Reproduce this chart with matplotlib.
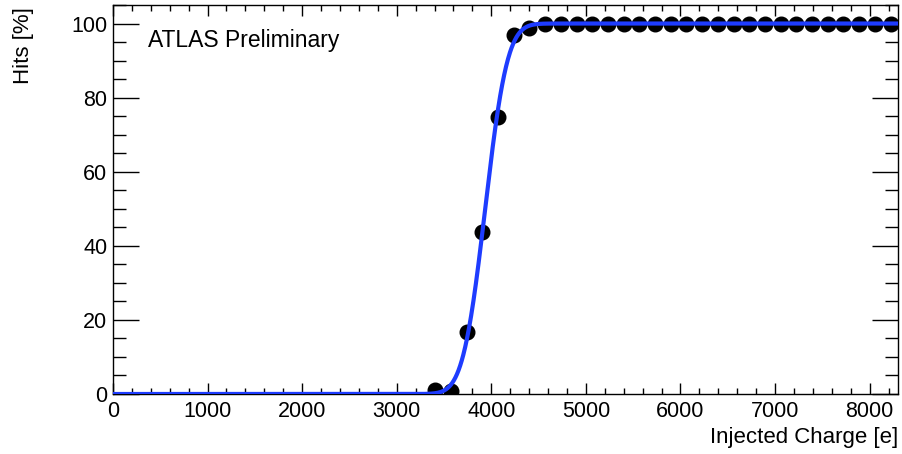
import math
import numpy as np
import matplotlib
matplotlib.use("Agg")
import matplotlib.pyplot as plt
from matplotlib.ticker import MultipleLocator

# Data
charge = [3407, 3573, 3739, 3905, 4071, 4237, 4403, 4569, 4735, 4901,
          5067, 5233, 5399, 5565, 5731, 5897, 6063, 6229, 6395, 6561,
          6727, 6893, 7059, 7225, 7391, 7557, 7723, 7889, 8055, 8221]
hits = [1.2, 0.7, 16.7, 43.8, 74.8, 97.0, 98.8, 99.9, 99.9, 99.9,
        99.9, 99.9, 99.9, 99.9, 99.9, 99.9, 99.9, 99.9, 99.9, 99.9,
        99.9, 99.9, 99.9, 99.9, 99.9, 99.9, 99.9, 99.9, 99.9, 99.9]

# S-curve fit parameters (error function)
fit_mean = 3935.0
fit_sigma = 185.0
fit_plateau = 100.0
fit_range = (0, 8300)

plt.rcParams['font.family'] = ['Liberation Sans', 'DejaVu Sans']

W, H = 903, 454
fig = plt.figure(figsize=(W / 100, H / 100), dpi=100)
ax = fig.add_axes([113 / W, 1 - 394 / H, (898 - 113) / W, (394 - 5) / H])

xf = np.linspace(fit_range[0], fit_range[1], 2000)
yf = np.array([0.5 * fit_plateau * (1 + math.erf((v - fit_mean) / (math.sqrt(2) * fit_sigma))) for v in xf])

ax.plot(charge, hits, 'o', color='black', markersize=10.5, zorder=3)
ax.plot(xf, yf, '-', color='#1e3cff', linewidth=3.0, zorder=4)

ax.set_xlim(0, 8300)
ax.set_ylim(0, 105)

ax.xaxis.set_major_locator(MultipleLocator(1000))
ax.xaxis.set_minor_locator(MultipleLocator(200))
ax.yaxis.set_major_locator(MultipleLocator(20))
ax.yaxis.set_minor_locator(MultipleLocator(5))

ax.tick_params(axis='both', which='both', direction='in', top=True, right=True,
               width=1.0, color='black')
ax.tick_params(axis='x', which='major', length=8, pad=5, labelsize=15.5)
ax.tick_params(axis='x', which='minor', length=4)
ax.tick_params(axis='y', which='major', length=18.5, pad=4, labelsize=15.5)
ax.tick_params(axis='y', which='minor', length=9.5)

for s in ax.spines.values():
    s.set_linewidth(1.0)
    s.set_color('black')

fig.text(24 / W, 1 - 7 / H, 'Hits [%]', rotation=90, ha='center', va='top', fontsize=16)
fig.text(898 / W, 1 - 438 / H, 'Injected Charge [e]', ha='right', va='center', fontsize=16)
ax.text(148 / W, 1 - 47 / H, 'ATLAS Preliminary', transform=fig.transFigure,
        ha='left', va='baseline', fontsize=16.5)

fig.savefig('out.png', dpi=100)
